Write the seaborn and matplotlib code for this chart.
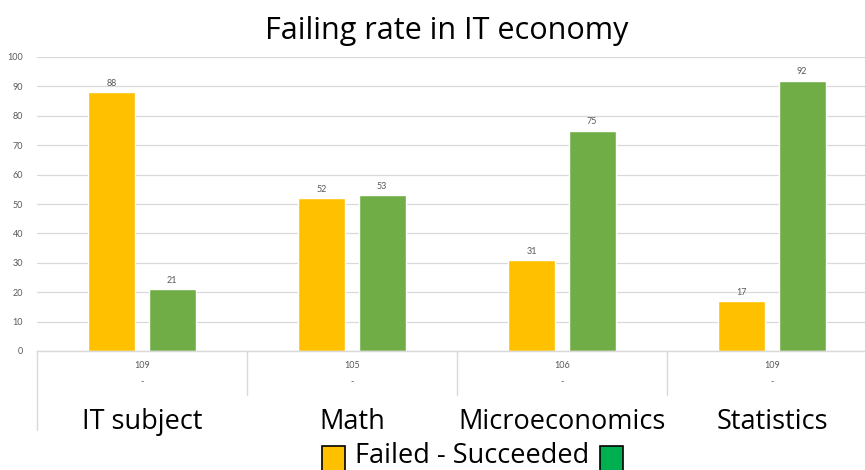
import matplotlib
matplotlib.use("Agg")
import matplotlib.pyplot as plt
import seaborn as sns
import pandas as pd
from matplotlib.patches import Rectangle
from matplotlib.lines import Line2D

subjects = ["IT subject", "Math", "Microeconomics", "Statistics"]
failed = [88, 52, 31, 17]
succeeded = [21, 53, 75, 92]
totals = ["109", "105", "106", "109"]
series_names = ["Failed", "Succeeded"]
title = "Failing rate in IT economy"
yticks = list(range(0, 101, 10))

df = pd.DataFrame({
    "subject": subjects * 2,
    "value": failed + succeeded,
    "status": [series_names[0]] * 4 + [series_names[1]] * 4,
})

sns.set_theme(style="white")
plt.rcParams["font.family"] = ["Lato", "DejaVu Sans"]
big = ["Open Sans", "DejaVu Sans"]

W, H = 865, 470
fig = plt.figure(figsize=(W / 100, H / 100), dpi=100)
ax = fig.add_axes([37 / W, (H - 351) / H, 840 / W, 294 / H])

yellow = "#FFC000"
green = "#70AD47"
sns.barplot(data=df, x="subject", y="value", hue="status",
            palette=[yellow, green], width=0.572, gap=0.217,
            ax=ax, legend=False, saturation=1)

ax.set_xlim(-0.5, 3.5)
ax.set_ylim(0, 100)
ax.set_yticks(yticks)
ax.set_yticklabels([str(t) for t in yticks], color="#595959", fontsize=6.5)
ax.tick_params(axis="y", length=0, pad=10)
ax.set_xticks([])
ax.set_xlabel("")
ax.set_ylabel("")
ax.grid(axis="y", color="#D9D9D9", linewidth=0.9)
ax.set_axisbelow(True)
for s in ["top", "right", "left"]:
    ax.spines[s].set_visible(False)
ax.spines["bottom"].set_color("#D9D9D9")
ax.spines["bottom"].set_linewidth(1)

for c in ax.containers:
    ax.bar_label(c, padding=3, color="#595959", fontsize=6.5)

tr = ax.get_xaxis_transform()
for i, (name, tot) in enumerate(zip(subjects, totals)):
    ax.text(i, -0.048, tot, transform=tr, ha="center", va="center",
            color="#595959", fontsize=6.5)
    ax.text(i, -0.105, "-", transform=tr, ha="center", va="center",
            color="#595959", fontsize=6.5)
    ax.text(i, -0.265, name, transform=tr, ha="center", va="baseline",
            color="black", fontsize=19.5, family=big)
for b in [0.5, 1.5, 2.5, 3.5]:
    ax.add_line(Line2D([b, b], [0, -0.15], transform=tr, color="#D9D9D9",
                       linewidth=1, clip_on=False))
ax.add_line(Line2D([-0.5, -0.5], [0, -0.27], transform=tr, color="#D9D9D9",
                   linewidth=1, clip_on=False))

fig.text(447 / W, 1 - 39 / H, title, ha="center", va="baseline",
         fontsize=22, color="black", family=big)

# legend
fig.patches.append(Rectangle((322 / W, (H - 471) / H), 23 / W, 25 / H,
                             transform=fig.transFigure, facecolor=yellow,
                             edgecolor="black", linewidth=1.2))
fig.patches.append(Rectangle((600 / W, (H - 471) / H), 23 / W, 25 / H,
                             transform=fig.transFigure, facecolor="#00B050",
                             edgecolor="black", linewidth=1.2))
fig.text(472 / W, 1 - 463 / H, f"{series_names[0]} - {series_names[1]}",
         ha="center", va="baseline", fontsize=19.5, color="black", family=big)

fig.savefig("out.png", dpi=100)
